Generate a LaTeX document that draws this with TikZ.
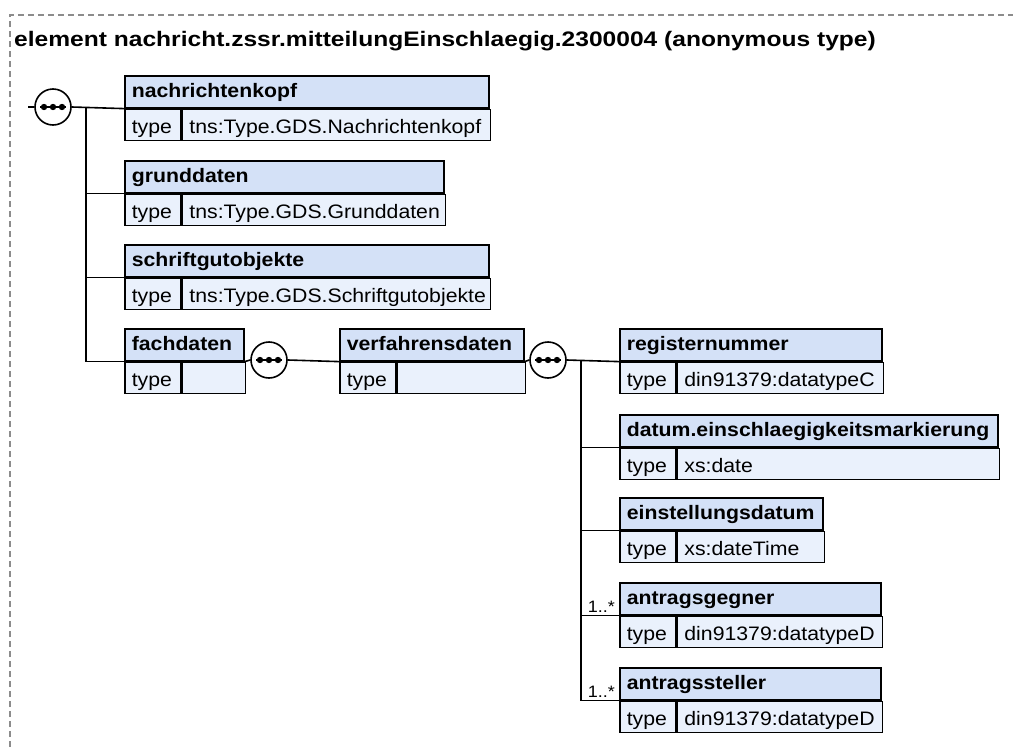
\documentclass[tikz,border=0pt]{standalone}
\usepackage{fontspec}
\setmainfont{Liberation Sans}[FakeStretch=1.09]
\newfontfamily\titlefont{Liberation Sans}[FakeStretch=1.17]
\usepackage{tikz}
\usetikzlibrary{calc,positioning}
\definecolor{hdrblue}{HTML}{D4E1F7}
\definecolor{rowblue}{HTML}{EAF1FC}
\newcommand{\boxfont}{\fontsize{19.5}{23}\selectfont}
\tikzset{
  hdr/.style={rectangle,draw=black,line width=1.6pt,fill=hdrblue,anchor=north west,minimum height=32pt,inner xsep=7pt,inner ysep=0pt,text height=12pt,text depth=0pt,align=left,font=\boxfont\bfseries},
  tlab/.style={rectangle,draw=black,line width=1.6pt,fill=rowblue,anchor=north west,minimum height=31pt,inner xsep=7pt,inner ysep=0pt,text width=42pt,text height=18pt,text depth=0pt,align=left,font=\boxfont},
  tval/.style={tlab},
  seq/.style={circle,draw=black,line width=1.6pt,fill=white,minimum size=36pt,inner sep=0pt},
  link/.style={line width=1.6pt,black},
  mult/.style={font=\fontsize{16.5}{20}\selectfont,inner sep=0pt,anchor=base east},
  frame/.style={line width=1.5pt,black!45,dash pattern=on 6pt off 4pt},
}
% element box: name, x, y, width, title, type
\newcommand{\elem}[6]{%
  \pgfmathsetmacro{\hw}{#4-14}\pgfmathsetmacro{\vw}{#4-70}%
  \node[hdr,text width=\hw pt] (#1) at (#2,#3) {#5};
  \node[tlab] (#1-l) at (#1.south west) {type};
  \node[tval,text width=\vw pt] (#1-v) at (#1-l.north east) {#6};
}
% sequence compositor
\newcommand{\seqnode}[3]{%
  \node[seq] (#1) at (#2,#3) {};
  \draw[link] ([xshift=-13pt]#1.center) -- ([xshift=13pt]#1.center);
  \foreach \dx in {-9,0,9} \fill ([xshift=\dx pt]#1.center) circle (3.2pt);
}

\begin{document}
\begin{tikzpicture}[x=1pt,y=-1pt]
  \useasboundingbox (0,0) rectangle (1013,747);
  \draw[frame] (10,747) -- (10,15) -- (1013,15);
  \node[font=\fontsize{21}{25}\titlefont\bfseries,anchor=base west,inner sep=0pt] (title) at (14,46) {element nachricht.zssr.mitteilungEinschlaegig.2300004 (anonymous type)};

  % first level
  \seqnode{seqA}{53}{107}
  \elem{kopf}{124}{75}{364}{nachrichtenkopf}{tns:Type.GDS.Nachrichtenkopf}
  \elem{grund}{124}{160}{319}{grunddaten}{tns:Type.GDS.Grunddaten}
  \elem{schrift}{124}{244}{364}{schriftgutobjekte}{tns:Type.GDS.Schriftgutobjekte}
  \elem{fach}{124}{328}{119}{fachdaten}{}
  \coordinate (in) at (28,107);
  \coordinate (trA) at (86,107);
  \draw[link] (in) -- (seqA.west);
  \draw[link] (seqA.east) -- (kopf.south west);
  \draw[link] (trA) |- (grund.south west);
  \draw[link] (trA) |- (schrift.south west);
  \draw[link] (trA) |- (fach.south west);

  % fachdaten
  \seqnode{seqB}{269}{360}
  \elem{verf}{339}{328}{184}{verfahrensdaten}{}
  \draw[link] (fach.south east) -- (seqB.west);
  \draw[link] (seqB.east) -- (verf.south west);

  % verfahrensdaten
  \seqnode{seqC}{548}{360}
  \elem{reg}{619}{328}{262}{registernummer}{din91379:datatypeC}
  \elem{dat}{619}{414}{378}{datum.einschlaegigkeitsmarkierung}{xs:date}
  \elem{einst}{619}{497}{203}{einstellungsdatum}{xs:dateTime}
  \elem{geg}{619}{582}{261}{antragsgegner}{din91379:datatypeD}
  \elem{stell}{619}{667}{261}{antragssteller}{din91379:datatypeD}
  \coordinate (trC) at (581,360);
  \draw[link] (verf.south east) -- (seqC.west);
  \draw[link] (seqC.east) -- (reg.south west);
  \draw[link] (trC) |- (dat.south west);
  \draw[link] (trC) |- (einst.south west);
  \draw[link] (trC) |- (geg.south west);
  \draw[link] (trC) |- (stell.south west);
  \node[mult] (mG) at ([xshift=-4pt,yshift=3pt]geg.south west) {1..*};
  \node[mult] (mS) at ([xshift=-4pt,yshift=3pt]stell.south west) {1..*};
\end{tikzpicture}
\end{document}
